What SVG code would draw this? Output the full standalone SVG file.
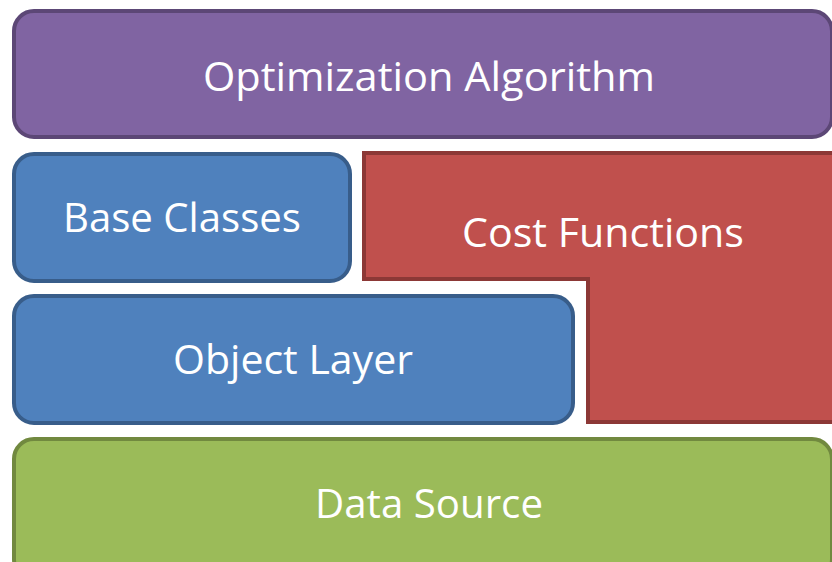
<svg xmlns="http://www.w3.org/2000/svg" width="832" height="562" viewBox="0 0 832 562">
<style>
text{font-family:"Open Sans","Liberation Sans",sans-serif;font-size:40px;fill:#fff;text-anchor:middle}
.p{fill:#8064A2;stroke:#5C4776;stroke-width:4}
.b{fill:#4F81BD;stroke:#385D8A;stroke-width:4}
.r{fill:#C0504D;stroke:#8C3836;stroke-width:4}
.g{fill:#9BBB59;stroke:#71893F;stroke-width:4}
</style>
<rect width="832" height="562" fill="#fff"/>
<g id="optimization-algorithm">
<rect class="p" x="14" y="11" width="818" height="126" rx="20"/>
<text x="429" y="91" textLength="452" lengthAdjust="spacingAndGlyphs">Optimization Algorithm</text>
</g>
<g id="base-classes">
<rect class="b" x="14" y="154" width="336" height="127" rx="20"/>
<text x="182" y="232" textLength="238" lengthAdjust="spacingAndGlyphs">Base Classes</text>
</g>
<g id="cost-functions">
<path class="r" d="M364,153 H850 V422 H588 V279 H364 Z"/>
<text x="603" y="247" textLength="282" lengthAdjust="spacingAndGlyphs">Cost Functions</text>
</g>
<g id="object-layer">
<rect class="b" x="14" y="296" width="559" height="127" rx="20"/>
<text x="293" y="374" textLength="240" lengthAdjust="spacingAndGlyphs">Object Layer</text>
</g>
<g id="data-source">
<rect class="g" x="14" y="439" width="818" height="140" rx="20"/>
<text x="429" y="518" textLength="228" lengthAdjust="spacingAndGlyphs">Data Source</text>
</g>
<g id="connectors"/>
</svg>
